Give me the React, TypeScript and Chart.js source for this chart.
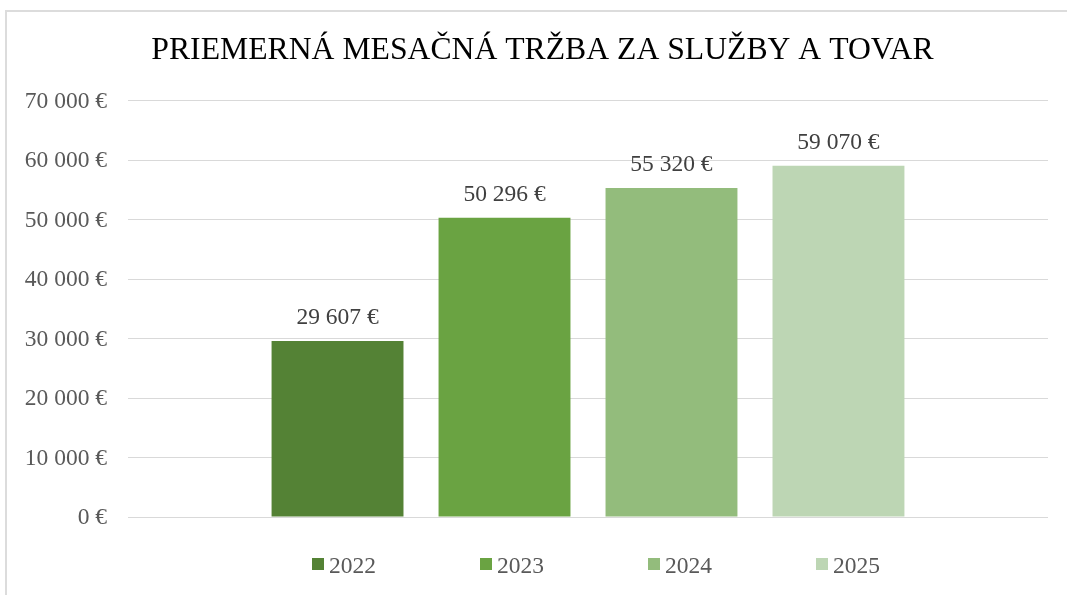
import React, { useEffect, useRef } from "react";
import { Chart, registerables } from "chart.js";

Chart.register(...registerables);

// ---- data ----
const chartTitle = "PRIEMERNÁ MESAČNÁ TRŽBA ZA SLUŽBY A TOVAR";
const categories = [""];
const seriesNames = ["2022", "2023", "2024", "2025"];
const seriesValues = [29607, 50296, 55320, 59070];
const yMin = 0;
const yMax = 70000;
const yStep = 10000;

// ---- styles ----
const seriesColors = ["#548235", "#6aa342", "#93bc7c", "#bdd6b4"];
const FONT = "'Liberation Serif', 'Times New Roman', serif";
const TEXT_SIZE = 23.5;

const fmtEuro = (v: number) =>
  String(Math.round(v)).replace(/\B(?=(\d{3})+(?!\d))/g, "\u00a0") + "\u00a0€";

// shift the title box so the title is centred like the original
const titleShiftPlugin = {
  id: "titleShift",
  afterLayout(chart: any) {
    if (chart.titleBlock) {
      chart.titleBlock.left = 37;
    }
  },
};

const dataLabelsPlugin = {
  id: "dataLabels",
  afterDatasetsDraw(chart: any) {
    const ctx = chart.ctx;
    ctx.save();
    ctx.font = `${TEXT_SIZE}px ${FONT}`;
    ctx.fillStyle = "#404040";
    ctx.textAlign = "center";
    ctx.textBaseline = "alphabetic";
    chart.data.datasets.forEach((ds: any, i: number) => {
      const meta = chart.getDatasetMeta(i);
      meta.data.forEach((bar: any, j: number) => {
        ctx.fillText(fmtEuro(ds.data[j]), bar.x, bar.y - 17);
      });
    });
    ctx.restore();
  },
};

const legendPlugin = {
  id: "customLegend",
  afterDraw(chart: any) {
    const ctx = chart.ctx;
    const area = chart.chartArea;
    ctx.save();
    ctx.font = `${TEXT_SIZE}px ${FONT}`;
    const box = 12;
    const gap = 5;
    const spacing = 104;
    const items = chart.data.datasets.map((ds: any) => ({
      text: ds.label,
      color: ds.backgroundColor,
      w: box + gap + ctx.measureText(ds.label).width,
    }));
    const total =
      items.reduce((s: number, it: any) => s + it.w, 0) + spacing * (items.length - 1);
    let x = (area.left + area.right) / 2 + 8 - total / 2;
    const cy = 564;
    items.forEach((it: any) => {
      ctx.fillStyle = it.color;
      ctx.fillRect(x, cy - box / 2, box, box);
      ctx.fillStyle = "#595959";
      ctx.textAlign = "left";
      ctx.textBaseline = "alphabetic";
      ctx.fillText(it.text, x + box + gap, 573);
      x += it.w + spacing;
    });
    ctx.restore();
  },
};

export default function App() {
  const ref = useRef<HTMLCanvasElement>(null);

  useEffect(() => {
    if (!ref.current) return;
    const chart = new Chart(ref.current, {
      type: "bar",
      data: {
        labels: categories,
        datasets: seriesNames.map((name, i) => ({
          label: name,
          data: [seriesValues[i]],
          backgroundColor: seriesColors[i],
          borderWidth: 0,
          categoryPercentage: 0.726,
          barPercentage: 0.79,
        })),
      },
      options: {
        animation: false,
        responsive: false,
        layout: { padding: { left: 0, right: 19, top: 0, bottom: 78 } },
        plugins: {
          legend: { display: false },
          tooltip: { enabled: false },
          title: {
            display: true,
            text: chartTitle,
            color: "#000000",
            font: { family: FONT, size: 31.7, weight: "normal" },
            padding: { top: 32, bottom: 30.6 },
          },
        },
        scales: {
          x: { display: false },
          y: {
            min: yMin,
            max: yMax,
            border: { display: false },
            grid: { color: "#d9d9d9", lineWidth: 1, drawTicks: false },
            ticks: {
              stepSize: yStep,
              padding: 21,
              labelOffset: 1,
              color: "#595959",
              font: { family: FONT, size: TEXT_SIZE },
              callback: (v: any) => fmtEuro(Number(v)),
            },
            afterFit: (scale: any) => {
              scale.width = 128;
            },
          },
        },
      },
      plugins: [titleShiftPlugin, dataLabelsPlugin, legendPlugin],
    });
    return () => chart.destroy();
  }, []);

  return (
    <div
      style={{
        position: "fixed",
        left: 0,
        top: 0,
        width: 1067,
        height: 595,
        overflow: "hidden",
        background: "#ffffff",
      }}
    >
      <div
        style={{
          position: "absolute",
          left: 5,
          top: 10,
          width: 1100,
          height: 640,
          border: "2px solid #dcdcdc",
          boxSizing: "border-box",
        }}
      />
      <canvas
        ref={ref}
        width={1067}
        height={595}
        style={{ position: "absolute", left: 0, top: 0, width: 1067, height: 595 }}
      />
    </div>
  );
}
